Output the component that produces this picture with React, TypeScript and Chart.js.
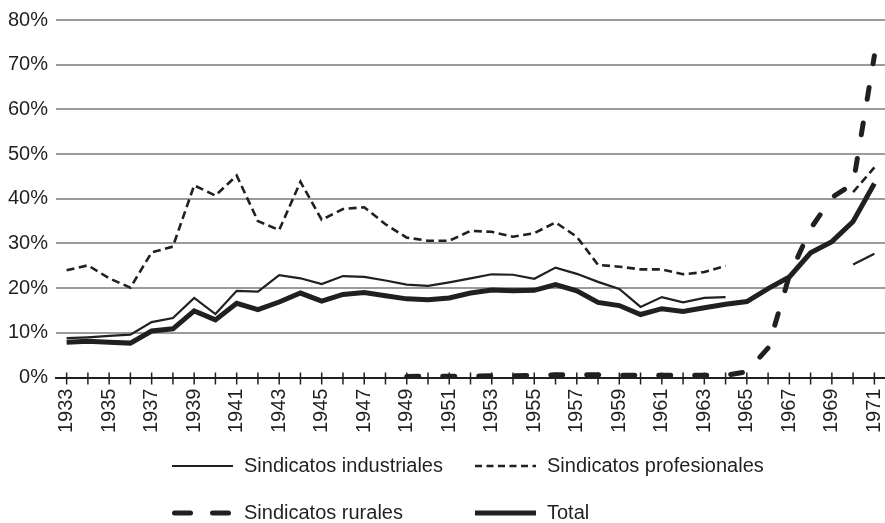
import React, { useEffect, useRef } from "react";
import { Chart, registerables } from "chart.js";

Chart.register(...registerables);

const years = [
  "1933", "1934", "1935", "1936", "1937", "1938", "1939", "1940", "1941", "1942",
  "1943", "1944", "1945", "1946", "1947", "1948", "1949", "1950", "1951", "1952",
  "1953", "1954", "1955", "1956", "1957", "1958", "1959", "1960", "1961", "1962",
  "1963", "1964", "1965", "1966", "1967", "1968", "1969", "1970", "1971",
];

const industriales = [
  8.8, 9.0, 9.3, 9.6, 12.4, 13.3, 17.8, 14.2, 19.4, 19.2,
  22.9, 22.2, 20.9, 22.7, 22.5, 21.7, 20.8, 20.5, 21.3, 22.2,
  23.1, 23.0, 22.1, 24.6, 23.2, 21.4, 19.8, 15.8, 18.0, 16.8,
  17.8, 18.0, null, null, null, null, null, 25.3, 27.7,
];

const profesionales = [
  24.0, 25.1, 22.2, 20.1, 28.0, 29.3, 43.0, 40.7, 45.2, 35.0,
  33.0, 43.8, 35.3, 37.7, 38.1, 34.3, 31.3, 30.6, 30.6, 32.8,
  32.6, 31.5, 32.3, 34.7, 31.5, 25.2, 24.8, 24.2, 24.2, 23.1,
  23.6, 25.0, null, null, null, null, null, 41.5, 47.0,
];

const rurales = [
  null, null, null, null, null, null, null, null, null, null,
  null, null, null, null, null, null, 0.2, 0.3, 0.3, 0.3,
  0.4, 0.4, 0.5, 0.6, 0.6, 0.6, 0.5, 0.5, 0.5, 0.5,
  0.5, 0.5, 1.3, 6.6, 22.8, 33.3, 40.3, 43.3, 72.0,
];

const total = [
  7.9, 8.1, 7.9, 7.7, 10.4, 10.9, 14.9, 12.9, 16.6, 15.2,
  16.9, 18.9, 17.1, 18.6, 19.0, 18.3, 17.6, 17.4, 17.8, 18.9,
  19.6, 19.4, 19.5, 20.8, 19.4, 16.8, 16.1, 14.1, 15.4, 14.8,
  15.6, 16.4, 17.0, 19.9, 22.5, 27.9, 30.4, 34.9, 43.4,
];

const yTicks = [0, 10, 20, 30, 40, 50, 60, 70, 80];

const INK = "#231f20";
const GRID = "#9b9b9b";
const FONT = "'Liberation Sans', Arial, Helvetica, sans-serif";

const legendLayout = {
  rowY: [466, 513],
  colX: [172, 475],
  sampleLen: 61,
  textGap: 72,
  fontSize: 20,
};

const tickMarksPlugin = {
  id: "tickMarks",
  beforeDatasetsDraw(chart: any) {
    const x = chart.scales.x;
    const bottom = chart.chartArea.bottom;
    const ctx = chart.ctx;
    ctx.save();
    ctx.strokeStyle = INK;
    ctx.lineWidth = 1.5;
    for (let i = 0; i < years.length; i++) {
      const px = x.getPixelForTick(i);
      ctx.beginPath();
      ctx.moveTo(px, bottom - 5);
      ctx.lineTo(px, bottom + 7);
      ctx.stroke();
    }
    ctx.restore();
  },
};

const gridLegendPlugin = {
  id: "gridLegend",
  afterDraw(chart: any) {
    const ctx = chart.ctx;
    chart.data.datasets.forEach((ds: any, i: number) => {
      const col = i % 2;
      const row = Math.floor(i / 2);
      const x = legendLayout.colX[col];
      const y = legendLayout.rowY[row];
      ctx.save();
      ctx.strokeStyle = ds.borderColor;
      ctx.lineWidth = ds.borderWidth;
      ctx.lineCap = ds.borderCapStyle || "butt";
      ctx.setLineDash(ds.legendDash || []);
      ctx.beginPath();
      const capPad = ds.borderCapStyle === "round" ? ds.borderWidth / 2 : 0;
      ctx.moveTo(x + capPad, y);
      ctx.lineTo(x + legendLayout.sampleLen - capPad, y);
      ctx.stroke();
      ctx.setLineDash([]);
      ctx.fillStyle = INK;
      ctx.font = `${legendLayout.fontSize}px ${FONT}`;
      ctx.textBaseline = "middle";
      ctx.textAlign = "left";
      ctx.fillText(ds.label, x + legendLayout.textGap, y);
      ctx.restore();
    });
  },
};

export default function App() {
  const canvasRef = useRef<HTMLCanvasElement | null>(null);

  useEffect(() => {
    document.body.style.margin = "0";
    const canvas = canvasRef.current;
    if (!canvas) return;
    const chart = new Chart(canvas, {
      type: "line",
      data: {
        labels: years,
        datasets: [
          {
            label: "Sindicatos industriales",
            data: industriales,
            borderColor: INK,
            borderWidth: 2.2,
            pointRadius: 0,
            tension: 0,
            spanGaps: false,
            legendDash: [],
          } as any,
          {
            label: "Sindicatos profesionales",
            data: profesionales,
            borderColor: INK,
            borderWidth: 2.6,
            borderDash: [8, 4.5],
            pointRadius: 0,
            tension: 0,
            spanGaps: false,
            legendDash: [7, 4.5],
          } as any,
          {
            label: "Sindicatos rurales",
            data: rurales,
            borderColor: INK,
            borderWidth: 5,
            borderDash: [12, 24],
            borderCapStyle: "round",
            pointRadius: 0,
            tension: 0,
            spanGaps: false,
            legendDash: [16, 22],
          } as any,
          {
            label: "Total",
            data: total,
            borderColor: INK,
            borderWidth: 5,
            pointRadius: 0,
            tension: 0,
            spanGaps: false,
            legendDash: [],
          } as any,
        ],
      },
      options: {
        responsive: false,
        animation: false,
        layout: { padding: { left: 8, right: 0, top: 20, bottom: 79 } },
        plugins: {
          legend: { display: false },
          tooltip: { enabled: false },
        },
        scales: {
          x: {
            type: "category",
            offset: true,
            afterFit: (scale: any) => {
              scale.paddingLeft = 0;
              scale.paddingRight = 0;
            },
            grid: { display: false, drawTicks: false },
            border: { display: true, color: INK, width: 2 },
            ticks: {
              autoSkip: false,
              minRotation: 90,
              maxRotation: 90,
              padding: 11,
              color: INK,
              font: { size: 20, family: FONT },
              callback: (_v: any, i: number) => (i % 2 === 0 ? years[i] : ""),
            },
          },
          y: {
            min: 0,
            max: 80,
            afterBuildTicks: (scale: any) => {
              scale.ticks = yTicks.map((v) => ({ value: v }));
            },
            afterFit: (scale: any) => {
              scale.width = 48;
            },
            grid: {
              color: (c: any) => (c.tick && c.tick.value === 0 ? "rgba(0,0,0,0)" : GRID),
              lineWidth: 2,
              drawTicks: false,
            },
            border: { display: false },
            ticks: {
              padding: 8,
              color: INK,
              font: { size: 20, family: FONT },
              callback: (v: any) => `${v}%`,
            },
          },
        },
      },
      plugins: [tickMarksPlugin, gridLegendPlugin],
    });
    return () => chart.destroy();
  }, []);

  return (
    <div style={{ width: 885, height: 523 }}>
      <canvas ref={canvasRef} width={885} height={523} style={{ display: "block" }} />
    </div>
  );
}
